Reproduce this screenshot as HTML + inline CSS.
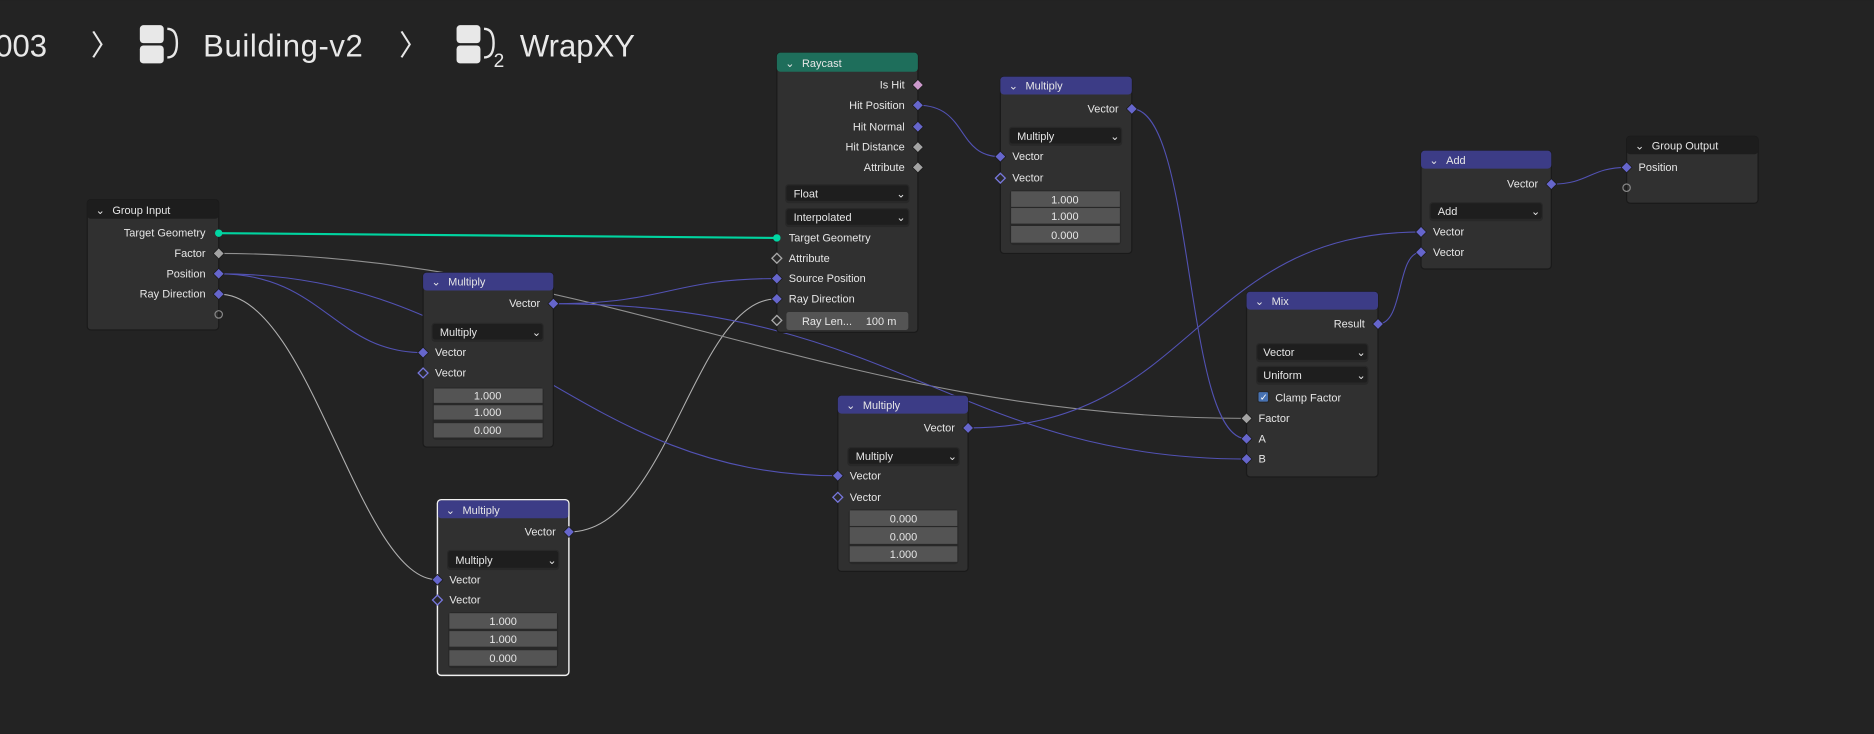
<!DOCTYPE html>
<html><head><meta charset="utf-8"><style>
html,body{margin:0;padding:0;background:#232323;width:1874px;height:734px;overflow:hidden}
svg{display:block}
text{font-family:"Liberation Sans","DejaVu Sans",sans-serif;fill:#e6e6e6;font-size:9.2px}
.h{font-size:9.2px}
.r{text-anchor:end}
.c{text-anchor:middle}
.bc{font-size:26px;fill:#e8e8e8}
</style></head><body>
<svg width="1874" height="734" viewBox="0 0 1568 614" xmlns="http://www.w3.org/2000/svg">
<defs>
<g id="dp"><rect x="-3.2" y="-3.2" width="6.4" height="6.4" transform="rotate(45)" fill="#6666cc" stroke="#1a1a1a" stroke-width="0.6"/></g>
<g id="dph"><rect x="-2.9" y="-2.9" width="5.8" height="5.8" transform="rotate(45)" fill="#2a2a2a" stroke="#7777dd" stroke-width="1.1"/></g>
<g id="dg"><rect x="-3.2" y="-3.2" width="6.4" height="6.4" transform="rotate(45)" fill="#a3a3a3" stroke="#1a1a1a" stroke-width="0.6"/></g>
<g id="dgh"><rect x="-2.9" y="-2.9" width="5.8" height="5.8" transform="rotate(45)" fill="#2a2a2a" stroke="#aaaaaa" stroke-width="1.1"/></g>
<g id="dk"><rect x="-3.2" y="-3.2" width="6.4" height="6.4" transform="rotate(45)" fill="#cc99cc" stroke="#1a1a1a" stroke-width="0.6"/></g>
</defs>
<rect width="1568" height="614" fill="#232323"/>

<!-- breadcrumb -->
<text class="bc" x="-4" y="47">003</text>
<text class="bc" x="76" y="46" style="font-size:24px">〉</text>
<g fill="#e8e8e8"><rect x="117" y="21" width="20" height="15" rx="3"/><rect x="117" y="38" width="20" height="15" rx="3"/><path d="M140 24 q8 0 8 12 q0 12 -8 12" stroke="#e8e8e8" stroke-width="2" fill="none"/></g>
<text class="bc" x="170" y="47" style="letter-spacing:0.5px">Building-v2</text>
<text class="bc" x="334" y="46" style="font-size:24px">〉</text>
<g fill="#e8e8e8"><rect x="382" y="21" width="20" height="15" rx="3"/><rect x="382" y="38" width="20" height="15" rx="3"/><path d="M405 24 q8 0 8 12 q0 12 -8 12" stroke="#e8e8e8" stroke-width="2" fill="none"/></g>
<text class="bc" x="413" y="56" style="font-size:16px">2</text>
<text class="bc" x="435" y="47">WrapXY</text>

<!-- links -->
<g fill="none" stroke-width="0.9">
<path d="M183 246 C260 246 300 485 366 485" stroke="#b0b0b0"/>
<path d="M476 445 C560 445 580 250 650 250" stroke="#b0b0b0"/>
<path d="M183 212 C500 212 700 350 1043 350" stroke="#909090"/>
<path d="M183 229 C270 229 280 295 354 295" stroke="#5252b4"/>
<path d="M183 229 C420 229 480 398 701 398" stroke="#5252b4"/>
<path d="M463 254 C560 254 560 233 650 233" stroke="#5252b4"/>
<path d="M463 254 C750 254 800 384 1043 384" stroke="#5252b4"/>
<path d="M768 88 C810 88 800 131 837 131" stroke="#5252b4"/>
<path d="M947 91 C1000 91 990 367 1043 367" stroke="#5252b4"/>
<path d="M810 358 C1000 358 1000 194 1189 194" stroke="#5252b4"/>
<path d="M1153 271 C1175 271 1168 211 1189 211" stroke="#5252b4"/>
<path d="M1298 154 C1330 154 1330 140 1361 140" stroke="#5252b4"/>
<path d="M183 195 L650 199" stroke="#00d4a0" stroke-width="1.8"/>
</g>

<!-- Group Input -->
<rect x="73" y="167" width="110" height="109" rx="3" fill="#303030" stroke="#1a1a1a"/>
<rect x="73" y="167" width="110" height="16" rx="3" fill="#1d1d1d"/>
<text class="h" x="80" y="179">⌄</text><text class="h" x="94" y="179">Group Input</text>
<text class="r" x="172" y="198">Target Geometry</text>
<text class="r" x="172" y="215">Factor</text>
<text class="r" x="172" y="232">Position</text>
<text class="r" x="172" y="249">Ray Direction</text>
<circle cx="183" cy="195" r="3.1" fill="#00d6a3"/>
<use href="#dg" x="183" y="212"/><use href="#dp" x="183" y="229"/><use href="#dp" x="183" y="246"/>
<circle cx="183" cy="263" r="3.1" fill="none" stroke="#888"/>

<!-- Raycast -->
<rect x="650" y="44" width="118" height="234" rx="3" fill="#303030" stroke="#1a1a1a"/>
<rect x="650" y="44" width="118" height="16" rx="3" fill="#1e6e5b"/>
<text class="h" x="657" y="56">⌄</text><text class="h" x="671" y="56">Raycast</text>
<text class="r" x="757" y="74">Is Hit</text>
<text class="r" x="757" y="91">Hit Position</text>
<text class="r" x="757" y="109">Hit Normal</text>
<text class="r" x="757" y="126">Hit Distance</text>
<text class="r" x="757" y="143">Attribute</text>
<use href="#dk" x="768" y="71"/><use href="#dp" x="768" y="88"/><use href="#dp" x="768" y="106"/><use href="#dg" x="768" y="123"/><use href="#dg" x="768" y="140"/>
<rect x="657" y="154" width="104" height="16" rx="3" fill="#282828"/>
<rect x="658" y="155" width="102" height="13" rx="2" fill="#1e1e1e"/><text x="664" y="165">Float</text><text x="750" y="165">⌄</text>
<rect x="657" y="174" width="104" height="16" rx="3" fill="#282828"/>
<rect x="658" y="175" width="102" height="13" rx="2" fill="#1e1e1e"/><text x="664" y="185">Interpolated</text><text x="750" y="185">⌄</text>
<text x="660" y="202">Target Geometry</text>
<text x="660" y="219">Attribute</text>
<text x="660" y="236">Source Position</text>
<text x="660" y="253">Ray Direction</text>
<rect x="658" y="261" width="102" height="15" rx="2" fill="#545454"/>
<text x="671" y="272">Ray Len...</text><text class="r" x="750" y="272">100 m</text>
<circle cx="650" cy="199" r="3.1" fill="#00d6a3"/>
<use href="#dgh" x="650" y="216"/><use href="#dp" x="650" y="233"/><use href="#dp" x="650" y="250"/><use href="#dgh" x="650" y="268"/>

<!-- Multiply top right -->
<rect x="837" y="64" width="110" height="148" rx="3" fill="#303030" stroke="#1a1a1a"/>
<rect x="837" y="64" width="110" height="15" rx="3" fill="#3c3c86"/>
<text class="h" x="844" y="75">⌄</text><text class="h" x="858" y="75">Multiply</text>
<text class="r" x="936" y="94">Vector</text><use href="#dp" x="947" y="91"/>
<rect x="844" y="106" width="95" height="16" rx="3" fill="#282828"/>
<rect x="845" y="107" width="93" height="13" rx="2" fill="#1e1e1e"/><text x="851" y="117">Multiply</text><text x="929" y="117">⌄</text>
<text x="847" y="134">Vector</text><use href="#dp" x="837" y="131"/>
<text x="847" y="152">Vector</text><use href="#dph" x="837" y="149"/>
<rect x="845" y="159" width="93" height="46" rx="3" fill="#282828"/>
<rect x="846" y="160" width="91" height="13" fill="#545454"/><text class="c" x="891" y="170">1.000</text>
<rect x="846" y="174" width="91" height="13" fill="#545454"/><text class="c" x="891" y="184">1.000</text>
<rect x="846" y="189" width="91" height="14" fill="#545454"/><text class="c" x="891" y="200">0.000</text>

<!-- Add -->
<rect x="1189" y="126" width="109" height="99" rx="3" fill="#303030" stroke="#1a1a1a"/>
<rect x="1189" y="126" width="109" height="15" rx="3" fill="#3c3c86"/>
<text class="h" x="1196" y="137">⌄</text><text class="h" x="1210" y="137">Add</text>
<text class="r" x="1287" y="157">Vector</text><use href="#dp" x="1298" y="154"/>
<rect x="1196" y="169" width="95" height="16" rx="3" fill="#282828"/>
<rect x="1197" y="170" width="93" height="13" rx="2" fill="#1e1e1e"/><text x="1203" y="180">Add</text><text x="1281" y="180">⌄</text>
<text x="1199" y="197">Vector</text><use href="#dp" x="1189" y="194"/>
<text x="1199" y="214">Vector</text><use href="#dp" x="1189" y="211"/>

<!-- Group Output -->
<rect x="1361" y="114" width="110" height="56" rx="3" fill="#303030" stroke="#1a1a1a"/>
<rect x="1361" y="114" width="110" height="15" rx="3" fill="#1d1d1d"/>
<text class="h" x="1368" y="125">⌄</text><text class="h" x="1382" y="125">Group Output</text>
<text x="1371" y="143">Position</text><use href="#dp" x="1361" y="140"/>
<circle cx="1361" cy="157" r="3.1" fill="none" stroke="#888"/>

<!-- Mix -->
<rect x="1043" y="244" width="110" height="155" rx="3" fill="#303030" stroke="#1a1a1a"/>
<rect x="1043" y="244" width="110" height="15" rx="3" fill="#3c3c86"/>
<text class="h" x="1050" y="255">⌄</text><text class="h" x="1064" y="255">Mix</text>
<text class="r" x="1142" y="274">Result</text><use href="#dp" x="1153" y="271"/>
<rect x="1051" y="287" width="94" height="16" rx="3" fill="#282828"/>
<rect x="1052" y="288" width="92" height="13" rx="2" fill="#1e1e1e"/><text x="1057" y="298">Vector</text><text x="1135" y="298">⌄</text>
<rect x="1051" y="306" width="94" height="16" rx="3" fill="#282828"/>
<rect x="1052" y="307" width="92" height="13" rx="2" fill="#1e1e1e"/><text x="1057" y="317">Uniform</text><text x="1135" y="317">⌄</text>
<rect x="1052" y="327" width="10" height="10" rx="2" fill="#282828"/>
<rect x="1053" y="328" width="8" height="8" rx="1" fill="#4772b3"/><text x="1054" y="335" style="font-size:8px;fill:#fff">✓</text>
<text x="1067" y="336">Clamp Factor</text>
<text x="1053" y="353">Factor</text><use href="#dg" x="1043" y="350"/>
<text x="1053" y="370">A</text><use href="#dp" x="1043" y="367"/>
<text x="1053" y="387">B</text><use href="#dp" x="1043" y="384"/>

<!-- Multiply A -->
<rect x="354" y="228" width="109" height="146" rx="3" fill="#303030" stroke="#1a1a1a"/>
<rect x="354" y="228" width="109" height="15" rx="3" fill="#3c3c86"/>
<text class="h" x="361" y="239">⌄</text><text class="h" x="375" y="239">Multiply</text>
<text class="r" x="452" y="257">Vector</text><use href="#dp" x="463" y="254"/>
<rect x="361" y="270" width="94" height="16" rx="3" fill="#282828"/>
<rect x="362" y="271" width="92" height="13" rx="2" fill="#1e1e1e"/><text x="368" y="281">Multiply</text><text x="445" y="281">⌄</text>
<text x="364" y="298">Vector</text><use href="#dp" x="354" y="295"/>
<text x="364" y="315">Vector</text><use href="#dph" x="354" y="312"/>
<rect x="362" y="324" width="93" height="44" rx="3" fill="#282828"/>
<rect x="363" y="325" width="91" height="12" fill="#545454"/><text class="c" x="408" y="334">1.000</text>
<rect x="363" y="339" width="91" height="12" fill="#545454"/><text class="c" x="408" y="348">1.000</text>
<rect x="363" y="354" width="91" height="12" fill="#545454"/><text class="c" x="408" y="363">0.000</text>

<!-- Multiply B (selected) -->
<rect x="366" y="418" width="110" height="147" rx="3" fill="#303030" stroke="#f0f0f0" stroke-width="1.2"/>
<rect x="366.6" y="418.6" width="108.8" height="15" rx="2.5" fill="#3c3c86"/>
<text class="h" x="373" y="430">⌄</text><text class="h" x="387" y="430">Multiply</text>
<text class="r" x="465" y="448">Vector</text><use href="#dp" x="476" y="445"/>
<rect x="374" y="460" width="94" height="17" rx="3" fill="#282828"/>
<rect x="375" y="461" width="92" height="14" rx="2" fill="#1e1e1e"/><text x="381" y="472">Multiply</text><text x="458" y="472">⌄</text>
<text x="376" y="488">Vector</text><use href="#dp" x="366" y="485"/>
<text x="376" y="505">Vector</text><use href="#dph" x="366" y="502"/>
<rect x="375" y="512" width="92" height="47" rx="3" fill="#282828"/>
<rect x="376" y="513" width="90" height="13" fill="#545454"/><text class="c" x="421" y="523">1.000</text>
<rect x="376" y="528" width="90" height="13" fill="#545454"/><text class="c" x="421" y="538">1.000</text>
<rect x="376" y="544" width="90" height="13" fill="#545454"/><text class="c" x="421" y="554">0.000</text>

<!-- Multiply C -->
<rect x="701" y="331" width="109" height="147" rx="3" fill="#303030" stroke="#1a1a1a"/>
<rect x="701" y="331" width="109" height="15" rx="3" fill="#3c3c86"/>
<text class="h" x="708" y="342">⌄</text><text class="h" x="722" y="342">Multiply</text>
<text class="r" x="799" y="361">Vector</text><use href="#dp" x="810" y="358"/>
<rect x="709" y="374" width="94" height="16" rx="3" fill="#282828"/>
<rect x="710" y="375" width="92" height="13" rx="2" fill="#1e1e1e"/><text x="716" y="385">Multiply</text><text x="793" y="385">⌄</text>
<text x="711" y="401">Vector</text><use href="#dp" x="701" y="398"/>
<text x="711" y="419">Vector</text><use href="#dph" x="701" y="416"/>
<rect x="710" y="426" width="92" height="46" rx="3" fill="#282828"/>
<rect x="711" y="427" width="90" height="13" fill="#545454"/><text class="c" x="756" y="437">0.000</text>
<rect x="711" y="441" width="90" height="14" fill="#545454"/><text class="c" x="756" y="452">0.000</text>
<rect x="711" y="457" width="90" height="13" fill="#545454"/><text class="c" x="756" y="467">1.000</text>
</svg>
</body></html>
